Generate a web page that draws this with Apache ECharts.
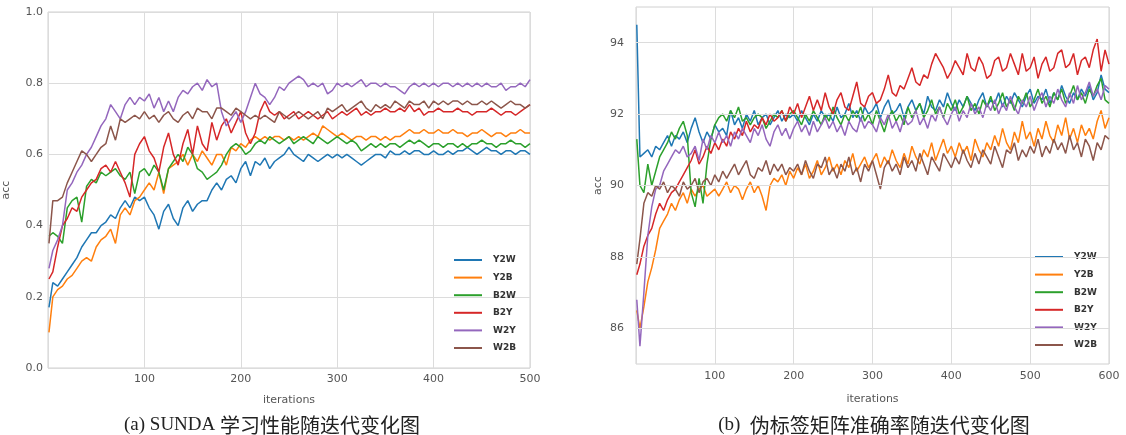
<!DOCTYPE html>
<html>
<head>
<meta charset="utf-8">
<script src="https://cdn.jsdelivr.net/npm/echarts@6/dist/echarts.min.js"></script>
<style>
  html, body { margin: 0; padding: 0; background: #fff; }
  #main { width: 1126px; height: 435px; }
</style>
</head>
<body>
<div id="main"></div>
<script>
// series names and colours (matplotlib default cycle)
var names = ['Y2W', 'Y2B', 'B2W', 'B2Y', 'W2Y', 'W2B'];
var colors = ['#1f77b4', '#ff7f0e', '#2ca02c', '#d62728', '#9467bd', '#8c564b'];

// (a) iterations 1,5,10,...,500
var itersA = [1];
for (var i = 5; i <= 500; i += 5) itersA.push(i);

var a_Y2W = [0.17,0.24,0.23,0.25,0.27,0.29,0.31,0.34,0.36,0.38,0.38,0.40,0.41,0.43,0.42,0.45,0.47,0.45,0.48,0.47,0.48,
  0.45,0.43,0.39,0.44,0.46,0.42,0.40,0.45,0.47,0.44,0.46,0.47,0.47,0.50,0.52,0.50,0.53,0.54,0.52,0.56,
  0.58,0.54,0.58,0.57,0.59,0.56,0.58,0.59,0.60,0.62,0.60,0.59,0.58,0.60,0.59,0.58,0.59,0.60,0.59,0.60,
  0.59,0.60,0.59,0.58,0.57,0.58,0.59,0.60,0.60,0.59,0.61,0.60,0.60,0.61,0.60,0.61,0.61,0.60,0.60,0.61,
  0.60,0.60,0.61,0.60,0.61,0.61,0.62,0.61,0.60,0.61,0.62,0.61,0.61,0.60,0.61,0.61,0.60,0.61,0.61,0.60];
var a_Y2B = [0.10,0.20,0.22,0.23,0.25,0.26,0.28,0.30,0.31,0.30,0.34,0.36,0.37,0.39,0.35,0.43,0.45,0.43,0.47,0.48,0.50,
  0.52,0.50,0.55,0.49,0.56,0.57,0.58,0.60,0.57,0.60,0.58,0.61,0.59,0.57,0.60,0.60,0.57,0.62,0.61,0.63,
  0.62,0.64,0.65,0.64,0.65,0.64,0.65,0.65,0.64,0.65,0.64,0.65,0.64,0.65,0.66,0.65,0.68,0.67,0.66,0.65,
  0.66,0.65,0.64,0.65,0.65,0.64,0.65,0.65,0.64,0.65,0.64,0.65,0.65,0.66,0.67,0.66,0.66,0.67,0.66,0.66,
  0.67,0.66,0.66,0.67,0.66,0.66,0.65,0.66,0.66,0.67,0.66,0.65,0.66,0.66,0.65,0.66,0.66,0.67,0.66,0.66];
var a_B2W = [0.37,0.38,0.37,0.35,0.45,0.47,0.48,0.41,0.51,0.53,0.52,0.55,0.54,0.55,0.56,0.54,0.53,0.55,0.49,0.55,0.56,
  0.54,0.57,0.55,0.50,0.56,0.58,0.60,0.58,0.62,0.60,0.56,0.55,0.53,0.54,0.55,0.57,0.60,0.62,0.63,0.62,
  0.60,0.61,0.63,0.64,0.63,0.65,0.64,0.63,0.64,0.65,0.63,0.64,0.65,0.64,0.63,0.65,0.64,0.63,0.64,0.65,
  0.64,0.63,0.64,0.63,0.61,0.62,0.63,0.62,0.63,0.62,0.63,0.63,0.62,0.63,0.64,0.63,0.64,0.63,0.62,0.63,
  0.63,0.62,0.63,0.63,0.62,0.63,0.62,0.63,0.63,0.64,0.63,0.63,0.62,0.63,0.63,0.64,0.63,0.63,0.62,0.63];
var a_B2Y = [0.25,0.27,0.34,0.40,0.42,0.45,0.44,0.48,0.50,0.52,0.53,0.56,0.57,0.55,0.58,0.55,0.52,0.48,0.60,0.63,0.65,
  0.61,0.59,0.55,0.62,0.66,0.60,0.57,0.63,0.67,0.60,0.68,0.63,0.61,0.69,0.64,0.68,0.70,0.66,0.69,0.72,
  0.66,0.63,0.66,0.72,0.75,0.72,0.71,0.72,0.70,0.71,0.72,0.70,0.71,0.72,0.71,0.70,0.71,0.72,0.70,0.71,
  0.72,0.71,0.72,0.73,0.71,0.72,0.71,0.72,0.72,0.73,0.72,0.72,0.73,0.72,0.74,0.72,0.73,0.71,0.72,0.72,
  0.73,0.72,0.72,0.72,0.73,0.72,0.72,0.71,0.72,0.72,0.72,0.73,0.72,0.71,0.72,0.72,0.71,0.72,0.73,0.74];
var a_W2Y = [0.28,0.33,0.36,0.40,0.50,0.52,0.55,0.57,0.60,0.62,0.65,0.68,0.70,0.74,0.72,0.70,0.74,0.76,0.74,0.76,0.75,
  0.77,0.73,0.76,0.72,0.75,0.72,0.76,0.78,0.77,0.79,0.80,0.78,0.81,0.79,0.80,0.72,0.68,0.70,0.72,0.69,
  0.72,0.76,0.80,0.77,0.76,0.74,0.76,0.79,0.78,0.80,0.81,0.82,0.81,0.79,0.80,0.79,0.80,0.77,0.78,0.80,
  0.79,0.80,0.79,0.80,0.81,0.79,0.80,0.80,0.79,0.80,0.79,0.79,0.78,0.77,0.79,0.80,0.79,0.80,0.79,0.80,
  0.79,0.80,0.80,0.79,0.80,0.79,0.80,0.79,0.80,0.79,0.80,0.79,0.79,0.80,0.78,0.79,0.79,0.80,0.79,0.81];
var a_W2B = [0.35,0.47,0.47,0.48,0.52,0.55,0.58,0.61,0.60,0.58,0.60,0.62,0.63,0.68,0.64,0.70,0.69,0.70,0.71,0.70,0.72,
  0.70,0.71,0.69,0.71,0.72,0.70,0.69,0.71,0.72,0.70,0.73,0.72,0.72,0.70,0.73,0.73,0.72,0.71,0.73,0.72,
  0.71,0.70,0.71,0.70,0.71,0.70,0.69,0.72,0.71,0.70,0.71,0.72,0.71,0.70,0.71,0.72,0.70,0.73,0.72,0.73,
  0.74,0.72,0.73,0.74,0.75,0.73,0.72,0.74,0.73,0.74,0.73,0.75,0.74,0.73,0.75,0.74,0.74,0.75,0.73,0.75,
  0.74,0.75,0.74,0.75,0.75,0.74,0.75,0.74,0.74,0.75,0.74,0.75,0.74,0.73,0.74,0.75,0.74,0.74,0.73,0.74];

// (b) iterations 1,5,10,...,600
var itersB = [1];
for (var j = 5; j <= 600; j += 5) itersB.push(j);

var b_Y2W = [94.5,90.8,90.9,91.0,90.8,91.1,91.0,91.2,91.4,91.1,91.4,91.3,91.5,91.2,91.6,91.9,91.5,91.2,91.5,91.3,91.7,
  91.5,91.6,91.4,92.1,91.7,91.9,91.6,92.0,91.8,92.1,91.7,91.9,92.0,91.7,91.9,92.1,91.8,92.0,91.9,92.0,
  91.8,92.1,91.9,91.7,92.0,91.8,92.1,91.9,92.0,91.8,92.2,91.9,92.0,92.3,91.9,92.1,91.8,92.2,92.0,92.1,
  92.3,91.9,92.2,92.4,92.0,92.1,92.3,91.9,92.2,92.4,92.1,92.3,92.0,92.5,92.2,92.1,92.4,92.2,92.6,92.3,
  92.1,92.4,92.2,92.5,92.3,92.1,92.4,92.6,92.2,92.4,92.3,92.6,92.2,92.5,92.3,92.6,92.4,92.2,92.5,92.7,
  92.3,92.5,92.4,92.7,92.3,92.6,92.4,92.8,92.5,92.3,92.6,92.4,92.7,92.5,92.8,92.4,92.6,93.1,92.7,92.6];
var b_Y2B = [86.5,86.0,86.6,87.3,87.7,88.2,88.8,89.0,89.2,89.5,89.3,89.6,89.8,89.5,89.9,89.7,89.9,90.0,89.7,89.8,89.9,
  89.7,89.9,90.1,89.8,90.0,89.9,89.6,89.9,90.1,89.8,90.0,89.7,89.3,90.0,90.2,90.1,90.3,90.0,90.4,90.2,
  90.5,90.3,90.6,90.2,90.4,90.7,90.3,90.5,90.8,90.4,90.6,90.3,90.7,90.5,90.9,90.4,90.6,90.8,90.5,90.7,
  90.9,90.5,90.8,90.6,91.0,90.7,90.5,90.9,90.6,91.1,90.8,90.6,91.0,90.8,91.2,90.7,91.0,91.3,90.9,91.1,
  90.8,91.2,90.9,91.1,90.7,91.3,91.0,90.8,91.2,91.0,91.4,91.1,91.6,91.2,91.0,91.5,91.2,91.8,91.3,91.5,
  91.1,91.6,91.3,91.8,91.4,91.2,91.7,91.4,91.9,91.3,91.6,91.2,91.7,91.4,91.6,91.3,91.8,92.1,91.6,91.9];
var b_B2W = [91.3,90.0,89.8,90.6,90.0,90.4,90.8,91.0,91.2,91.5,91.3,91.6,91.8,91.4,89.8,89.4,90.2,89.5,90.6,91.3,91.7,
  91.9,92.0,91.8,92.1,91.9,92.2,91.8,91.9,91.7,91.9,92.0,91.9,91.6,91.8,92.0,91.9,92.1,91.8,92.0,92.1,
  91.9,91.7,92.0,91.8,92.1,91.9,91.7,92.0,91.8,92.2,91.9,91.7,92.0,91.8,92.1,91.9,92.2,91.8,92.0,91.7,
  92.1,91.8,91.5,91.9,92.1,91.8,92.0,91.7,92.2,91.9,92.1,92.3,91.9,92.1,92.4,92.0,92.2,91.9,92.3,92.1,
  92.4,92.0,92.2,92.5,92.1,92.3,92.0,92.4,92.2,92.5,92.1,92.3,92.6,92.2,92.4,92.1,92.5,92.3,92.6,92.2,
  92.4,92.7,92.3,92.5,92.2,92.6,92.4,92.7,92.3,92.5,92.8,92.4,92.6,92.3,92.7,92.5,92.8,93.0,92.4,92.3];
var b_B2Y = [87.5,87.8,88.3,88.6,88.8,89.2,89.5,89.3,89.6,89.8,89.9,90.1,90.3,90.5,90.7,91.0,90.6,90.8,91.1,90.9,91.2,
  91.0,91.3,91.1,91.5,91.3,91.6,91.4,91.8,91.5,91.7,91.6,91.9,91.7,92.0,91.8,91.9,92.1,91.8,92.2,92.0,
  92.3,91.9,92.2,92.5,92.1,92.4,92.1,92.6,92.2,92.0,92.4,92.6,92.2,92.1,92.5,92.9,92.3,92.2,92.5,92.6,
  92.3,92.4,92.7,93.1,92.6,92.5,92.8,92.7,93.0,93.3,92.9,92.8,93.1,93.0,93.4,93.7,93.5,93.3,93.0,93.2,
  93.5,93.3,93.1,93.7,93.3,93.2,93.6,93.4,93.0,93.1,93.5,93.6,93.2,93.3,93.7,93.4,93.1,93.7,93.2,93.3,
  93.6,93.0,93.4,93.6,93.2,93.3,93.7,93.8,93.3,93.4,93.7,93.1,93.5,93.6,93.3,93.8,94.1,93.2,93.8,93.4];
var b_W2Y = [86.8,85.5,87.0,88.6,89.4,89.9,90.0,90.4,90.6,90.8,91.0,90.9,91.1,90.8,90.9,91.1,90.7,91.3,91.0,91.4,91.2,
  91.5,91.2,91.4,91.1,91.5,91.3,91.6,91.4,91.2,91.6,91.4,91.7,91.3,91.1,91.5,91.7,91.4,91.6,91.3,91.6,
  91.8,91.5,91.7,91.4,91.8,91.5,91.7,91.9,91.6,91.8,91.5,91.7,91.4,91.8,91.6,91.5,91.9,91.6,91.8,91.7,
  91.5,91.9,91.7,92.0,91.6,91.8,91.5,91.9,91.7,91.8,92.1,91.7,91.9,91.6,92.0,91.8,92.2,91.9,91.7,92.0,
  92.2,91.8,92.1,91.9,92.3,92.0,92.2,91.9,92.3,92.1,92.4,92.0,92.3,92.1,92.5,92.2,92.0,92.4,92.2,92.5,
  92.1,92.4,92.6,92.2,92.5,92.3,92.7,92.4,92.2,92.6,92.3,92.8,92.4,92.6,92.9,92.5,92.7,92.4,92.8,92.7];
var b_W2B = [87.8,88.5,89.5,89.8,89.7,90.0,89.9,90.1,89.8,90.0,89.9,89.7,90.1,89.9,90.0,90.2,89.8,90.1,90.2,90.0,90.3,
  90.1,90.4,90.2,90.4,90.6,90.3,90.5,90.7,90.3,90.2,90.5,90.4,90.7,90.3,90.6,90.4,90.6,90.3,90.5,90.4,
  90.6,90.3,90.7,90.4,90.2,90.6,90.5,90.8,90.3,90.5,90.2,90.6,90.4,90.8,90.3,90.5,90.1,90.6,90.4,90.7,
  90.3,89.9,90.5,90.7,90.4,90.6,90.3,90.8,90.5,90.7,90.4,90.9,90.6,90.3,90.8,90.6,90.4,90.9,90.7,90.5,
  90.8,90.6,91.0,90.7,90.5,90.9,90.6,91.0,90.8,90.6,91.1,90.8,90.5,91.0,90.9,91.2,90.7,91.0,90.8,91.1,
  90.9,91.3,90.8,91.1,90.9,91.3,91.0,91.2,90.9,91.4,91.0,91.2,90.8,91.3,91.1,90.7,91.2,91.0,91.4,91.3];

var ticksB = [86, 88, 90, 92, 94];

var seriesA = [a_Y2W, a_Y2B, a_B2W, a_B2Y, a_W2Y, a_W2B];
var seriesB = [b_Y2W, b_Y2B, b_B2W, b_B2Y, b_W2Y, b_W2B];

function pairs(xs, ys) {
    return ys.map(function (v, k) { return [xs[k], v]; });
}

var tickFont = {fontFamily: 'DejaVu Sans', fontSize: 11, color: '#555'};
var gridLine = {show: true, lineStyle: {color: '#dcdcdc', width: 1}};

var myChart = echarts.init(document.getElementById('main'));

var series = [];
seriesA.forEach(function (d, k) {
    series.push({
        name: names[k], type: 'line', xAxisIndex: 0, yAxisIndex: 0,
        data: pairs(itersA, d), showSymbol: false, symbol: 'none',
        lineStyle: {width: 1.5, color: colors[k]}, itemStyle: {color: colors[k]}, z: 3
    });
});
// horizontal grid lines of (b) at the even ticks
series.push({
    type: 'line', xAxisIndex: 1, yAxisIndex: 1, data: [], z: 1, silent: true,
    markLine: {
        silent: true, symbol: ['none', 'none'], animation: false,
        label: {show: false},
        lineStyle: {color: '#dcdcdc', width: 1, type: 'solid'},
        data: ticksB.map(function (t) { return {yAxis: t}; })
    }
});
seriesB.forEach(function (d, k) {
    series.push({
        name: names[k], type: 'line', xAxisIndex: 1, yAxisIndex: 1,
        data: pairs(itersB, d), showSymbol: false, symbol: 'none',
        lineStyle: {width: 1.5, color: colors[k]}, itemStyle: {color: colors[k]}, z: 3
    });
});

var legendStyle = {
    data: names, orient: 'vertical', icon: 'rect', itemWidth: 28, itemHeight: 2, itemGap: 7.6,
    textStyle: {fontFamily: 'DejaVu Sans', fontSize: 9, fontWeight: 'bold', color: '#333', lineHeight: 10, padding: [0, 0, 0, 6]}
};

var option = {
    animation: false,
    color: colors,
    grid: [
        {left: 48, top: 12, width: 482, height: 356, show: true, borderColor: '#d0d0d0', borderWidth: 1},
        {left: 636, top: 7, width: 473, height: 357, show: true, borderColor: '#d0d0d0', borderWidth: 1}
    ],
    legend: [
        Object.assign({left: 449, top: 250}, legendStyle),
        Object.assign({left: 1030, top: 247}, legendStyle)
    ],
    xAxis: [
        {
            type: 'value', gridIndex: 0, min: 0, max: 500, interval: 100,
            name: 'iterations', nameLocation: 'middle', nameGap: 27, nameTextStyle: tickFont,
            axisLine: {show: false}, axisTick: {show: false},
            axisLabel: Object.assign({showMinLabel: false, margin: 6}, tickFont),
            splitLine: gridLine
        },
        {
            type: 'value', gridIndex: 1, min: 0, max: 600, interval: 100,
            name: 'iterations', nameLocation: 'middle', nameGap: 30, nameTextStyle: tickFont,
            axisLine: {show: false}, axisTick: {show: false},
            axisLabel: Object.assign({showMinLabel: false, margin: 7}, tickFont),
            splitLine: gridLine
        }
    ],
    yAxis: [
        {
            type: 'value', gridIndex: 0, min: 0, max: 1, interval: 0.2,
            name: 'acc', nameLocation: 'middle', nameGap: 36, nameRotate: 90, nameTextStyle: tickFont,
            axisLine: {show: false}, axisTick: {show: false},
            axisLabel: Object.assign({margin: 5, formatter: function (v) { return v.toFixed(1); }}, tickFont),
            splitLine: gridLine
        },
        {
            type: 'value', gridIndex: 1, min: 85, max: 95, interval: 1,
            name: 'acc', nameLocation: 'middle', nameGap: 32, nameRotate: 90, nameTextStyle: tickFont,
            axisLine: {show: false}, axisTick: {show: false},
            axisLabel: Object.assign({margin: 12, formatter: function (v) {
                return ticksB.indexOf(v) >= 0 ? String(v) : '';
            }}, tickFont),
            splitLine: {show: false}
        }
    ],
    graphic: [
        {
            type: 'text', x: 272, y: 425, silent: true,
            style: {
                text: '{a|(a) SUNDA }{b|学习性能随迭代变化图}', align: 'center', verticalAlign: 'middle',
                rich: {
                    a: {fontFamily: 'Liberation Serif', fontSize: 19, fill: '#222'},
                    b: {fontFamily: 'Noto Sans CJK SC', fontSize: 20, fill: '#222'}
                }
            }
        },
        {
            type: 'text', x: 874, y: 425, silent: true,
            style: {
                text: '{a|(b)  }{b|伪标签矩阵准确率随迭代变化图}', align: 'center', verticalAlign: 'middle',
                rich: {
                    a: {fontFamily: 'Liberation Serif', fontSize: 19, fill: '#222'},
                    b: {fontFamily: 'Noto Sans CJK SC', fontSize: 20, fill: '#222'}
                }
            }
        }
    ],
    series: series
};
myChart.setOption(option);
</script>
</body>
</html>
